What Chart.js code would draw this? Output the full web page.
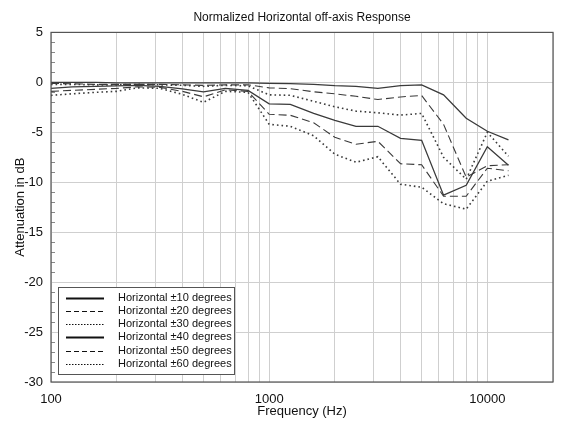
<!DOCTYPE html>
<html>
<head>
<meta charset="utf-8">
<script src="https://cdn.jsdelivr.net/npm/chart.js@4/dist/chart.umd.min.js"></script>
<style>
  html, body { margin: 0; padding: 0; background: #fff; }
  #wrap { width: 563px; height: 423px; }
</style>
</head>
<body>
<div id="wrap"><canvas id="myChart" width="563" height="423"></canvas></div>
<script>
// 1/3 octave frequencies (Hz)
var freqs = [100, 125, 160, 200, 250, 315, 400, 500, 630, 800, 1000,
  1250, 1600, 2000, 2500, 3150, 4000, 5000, 6300, 8000, 10000, 12500];

var h10 = [0, 0, 0, -0.05, -0.05, -0.05, -0.05, -0.05, -0.05, -0.05, -0.1,
  -0.13, -0.2, -0.33, -0.4, -0.6, -0.33, -0.26, -1.25, -3.6, -4.9, -5.75];
var h20 = [-0.1, -0.15, -0.2, -0.2, -0.2, -0.2, -0.25, -0.3, -0.25, -0.25, -0.55,
  -0.63, -0.95, -1.15, -1.4, -1.72, -1.46, -1.32, -4.2, -9.5, -8.35, -8.25];
var h30 = [-0.2, -0.2, -0.25, -0.25, -0.2, -0.25, -0.3, -0.4, -0.3, -0.35, -1.25,
  -1.3, -1.9, -2.45, -2.88, -3.05, -3.28, -3.11, -7.5, -9.7, -5.0, -7.4];
var h40 = [-0.6, -0.45, -0.4, -0.35, -0.3, -0.4, -0.65, -0.95, -0.6, -0.8, -2.15,
  -2.2, -3.1, -3.8, -4.4, -4.4, -5.6, -5.8, -11.3, -10.3, -6.45, -8.3];
var h50 = [-0.9, -0.8, -0.7, -0.6, -0.45, -0.5, -0.9, -1.45, -0.75, -0.9, -3.2,
  -3.3, -4.05, -5.5, -6.2, -5.9, -8.15, -8.25, -11.4, -11.4, -8.6, -8.85];
var h60 = [-1.3, -1.15, -1.0, -0.9, -0.55, -0.6, -1.2, -2.0, -0.9, -1.0, -4.2,
  -4.4, -5.35, -7.2, -8.0, -7.45, -10.2, -10.5, -12.15, -12.7, -9.9, -9.3];

var seriesNames = ["Horizontal \u00b110 degrees", "Horizontal \u00b120 degrees",
  "Horizontal \u00b130 degrees", "Horizontal \u00b140 degrees",
  "Horizontal \u00b150 degrees", "Horizontal \u00b160 degrees"];

var xTickLabels = [100, 1000, 10000];
var xMin = 100, xMax = 20000;
var yMin = -30, yMax = 5, yStep = 5;

var FONT = "'Liberation Sans', Arial, sans-serif";
var LINE = "#3a3a3a";
var styles = [
  { dash: [], width: 1.3, legendDash: [] },
  { dash: [8, 4], width: 1.1, legendDash: [5, 3] },
  { dash: [1.6, 3], width: 1.6, legendDash: [1.5, 1.5] },
  { dash: [], width: 1.3, legendDash: [] },
  { dash: [8, 4], width: 1.1, legendDash: [5, 3] },
  { dash: [1.6, 3], width: 1.6, legendDash: [1.5, 1.5] }
];

function pts(vals) {
  return freqs.map(function(f, i) { return { x: f, y: vals[i] }; });
}

var allSeries = [h10, h20, h30, h40, h50, h60];
var datasets = allSeries.map(function(vals, i) {
  return {
    label: seriesNames[i],
    data: pts(vals),
    borderColor: LINE,
    borderWidth: styles[i].width,
    borderDash: styles[i].dash,
    pointRadius: 0,
    fill: false,
    tension: 0
  };
});

// grid values 100..900, 1000..9000, 10000, 20000
var xGrid = [];
[100, 1000, 10000].forEach(function(d) {
  for (var k = 1; k <= 9; k++) {
    if (k * d <= xMax) xGrid.push(k * d);
  }
});

var frame = {
  id: "frame",
  afterDraw: function(chart) {
    var ctx = chart.ctx;
    var a = chart.chartArea;
    var ys = chart.scales.y;
    ctx.save();
    // small inner ticks every 1 dB on the left
    ctx.strokeStyle = "#888";
    ctx.lineWidth = 1;
    for (var v = yMin; v <= yMax; v++) {
      if (v % 5 === 0) continue;
      var py = Math.round(ys.getPixelForValue(v)) + 0.5;
      ctx.beginPath();
      ctx.moveTo(a.left, py);
      ctx.lineTo(a.left + 4, py);
      ctx.stroke();
    }
    // frame
    ctx.strokeStyle = "#555";
    ctx.lineWidth = 1.2;
    ctx.strokeRect(a.left, a.top, a.right - a.left, a.bottom - a.top);

    // legend box
    var bx = 58, by = 287, bw = 176, bh = 87;
    ctx.fillStyle = "#fff";
    ctx.fillRect(bx, by, bw, bh);
    ctx.strokeStyle = "#555";
    ctx.lineWidth = 1;
    ctx.strokeRect(bx + 0.5, by + 0.5, bw, bh);
    ctx.font = "11px " + FONT;
    ctx.textBaseline = "middle";
    chart.data.datasets.forEach(function(ds, i) {
      var ry = by + 10.5 + i * 13.3;
      ctx.strokeStyle = "#111";
      ctx.lineWidth = styles[i].legendDash.length ? 1.2 : 2;
      ctx.setLineDash(styles[i].legendDash);
      ctx.beginPath();
      ctx.moveTo(66, Math.round(ry) + 0.5);
      ctx.lineTo(104, Math.round(ry) + 0.5);
      ctx.stroke();
      ctx.setLineDash([]);
      ctx.fillStyle = "#111";
      ctx.fillText(ds.label, 118, ry);
    });
    ctx.restore();
  }
};

var ctx = document.getElementById("myChart");
var myChart = new Chart(ctx, {
  type: "line",
  data: { datasets: datasets },
  options: {
    responsive: false,
    animation: false,
    layout: { padding: { right: 2 } },
    plugins: {
      legend: { display: false },
      tooltip: { enabled: false },
      title: {
        display: true,
        text: "Normalized Horizontal off-axis Response",
        fullSize: false,
        color: "#111",
        font: { family: FONT, size: 12, weight: "normal" },
        padding: { top: 10, bottom: 8 }
      }
    },
    scales: {
      x: {
        type: "logarithmic",
        min: xMin,
        max: xMax,
        afterBuildTicks: function(scale) {
          scale.ticks = xGrid.map(function(v) { return { value: v }; });
        },
        afterFit: function(scale) { scale.height = 41; },
        ticks: {
          autoSkip: false,
          maxRotation: 0,
          padding: 10,
          color: "#111",
          font: { family: FONT, size: 13 },
          callback: function(v) {
            return xTickLabels.indexOf(v) >= 0 ? String(v) : "";
          }
        },
        grid: { color: "#cfcfcf", drawTicks: false },
        border: { display: false },
        title: {
          display: true,
          text: "Frequency (Hz)",
          color: "#111",
          font: { family: FONT, size: 13 },
          padding: { top: 0, bottom: 4 }
        }
      },
      y: {
        min: yMin,
        max: yMax,
        afterFit: function(scale) { scale.width = 51; },
        ticks: {
          stepSize: yStep,
          padding: 8,
          color: "#111",
          font: { family: FONT, size: 13 }
        },
        grid: { color: "#cfcfcf", drawTicks: false },
        border: { display: false },
        title: {
          display: true,
          text: "Attenuation in dB",
          color: "#111",
          font: { family: FONT, size: 13 },
          padding: { top: 13, bottom: 0 }
        }
      }
    }
  },
  plugins: [frame]
});
</script>
</body>
</html>
